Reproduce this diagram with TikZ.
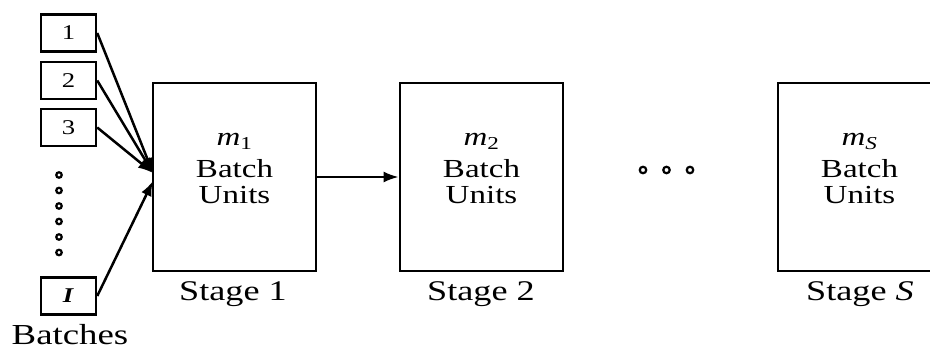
\documentclass[tikz,border=0pt]{standalone}
\usepackage{fontspec}
\setmainfont[FakeStretch=1.27]{Liberation Serif}
\usetikzlibrary{arrows.meta}

\begin{document}
\begin{tikzpicture}[x=1pt,y=-1pt,
  stagebox/.style={draw, line width=2.6pt, minimum width=163pt, minimum height=188pt, inner sep=0pt},
  batchbox/.style={draw, line width=2.5pt, minimum width=55pt, minimum height=37pt, inner sep=0pt,
                   font=\fontsize{21}{24}\selectfont},
  inner/.style={anchor=base, inner sep=0pt, font=\fontsize{26}{30}\selectfont},
  caption/.style={anchor=base, inner sep=0pt, font=\fontsize{28.5}{32}\selectfont},
  feed/.style={-{Latex[length=15pt,width=11pt]}, line width=2.5pt},
  dotc/.style={circle, draw, line width=2.2pt, minimum size=6.5pt, inner sep=0pt}]

\useasboundingbox (0,0) rectangle (930,352);

% batches waiting to be processed
\node[batchbox] (b1) at (68.5,33) {1};
\node[batchbox] (b2) at (68.5,80.5) {2};
\node[batchbox] (b3) at (68.5,127.5) {3};
\node[batchbox] (bI) at (68.5,296) {\textbf{\textit{I}}};
\foreach \k/\yy in {1/175,2/190.5,3/206,4/221.5,5/237,6/252.5}
  \node[dotc, minimum size=5.5pt] (vd\k) at (59,\yy) {};
\node[anchor=base, inner sep=0pt, font=\fontsize{29}{32}\selectfont] (blab) at (70,345) {Batches};

% stages in series
\node[stagebox] (s1) at (234.5,177) {};
\node[stagebox] (s2) at (481.5,177) {};
\node[stagebox] (sS) at (859.5,177) {};

\node[inner] (m1) at (234.5,146) {\textit{m}\textsubscript{1}};
\node[inner] (u1a) at (234.5,178) {Batch};
\node[inner] (u1b) at (234.5,204) {Units};
\node[inner] (m2) at (481.5,146) {\textit{m}\textsubscript{2}};
\node[inner] (u2a) at (481.5,178) {Batch};
\node[inner] (u2b) at (481.5,204) {Units};
\node[inner] (mS) at (859.5,146) {\textit{m}\textsubscript{\textit{S}}};
\node[inner] (uSa) at (859.5,178) {Batch};
\node[inner] (uSb) at (859.5,204) {Units};

\node[caption] (c1) at (233,301) {Stage 1};
\node[caption] (c2) at (481,301) {Stage 2};
\node[caption] (cS) at (860,301) {Stage \textit{S}};

% intermediate stages omitted
\foreach \k/\xx in {1/643,2/666.5,3/690}
  \node[dotc] (hd\k) at (\xx,170) {};

% batch feeds into stage 1
\coordinate (inA) at (153,173);
\coordinate (inB) at (153,181);
\draw[feed] (b1.east) -- (inA);
\draw[feed] (b2.east) -- (inA);
\draw[feed] (b3.east) -- (inA);
\draw[feed] (bI.east) -- (inB);

% transfer between stages
\draw[feed] (s1.east) -- (s2.west);
\end{tikzpicture}
\end{document}
